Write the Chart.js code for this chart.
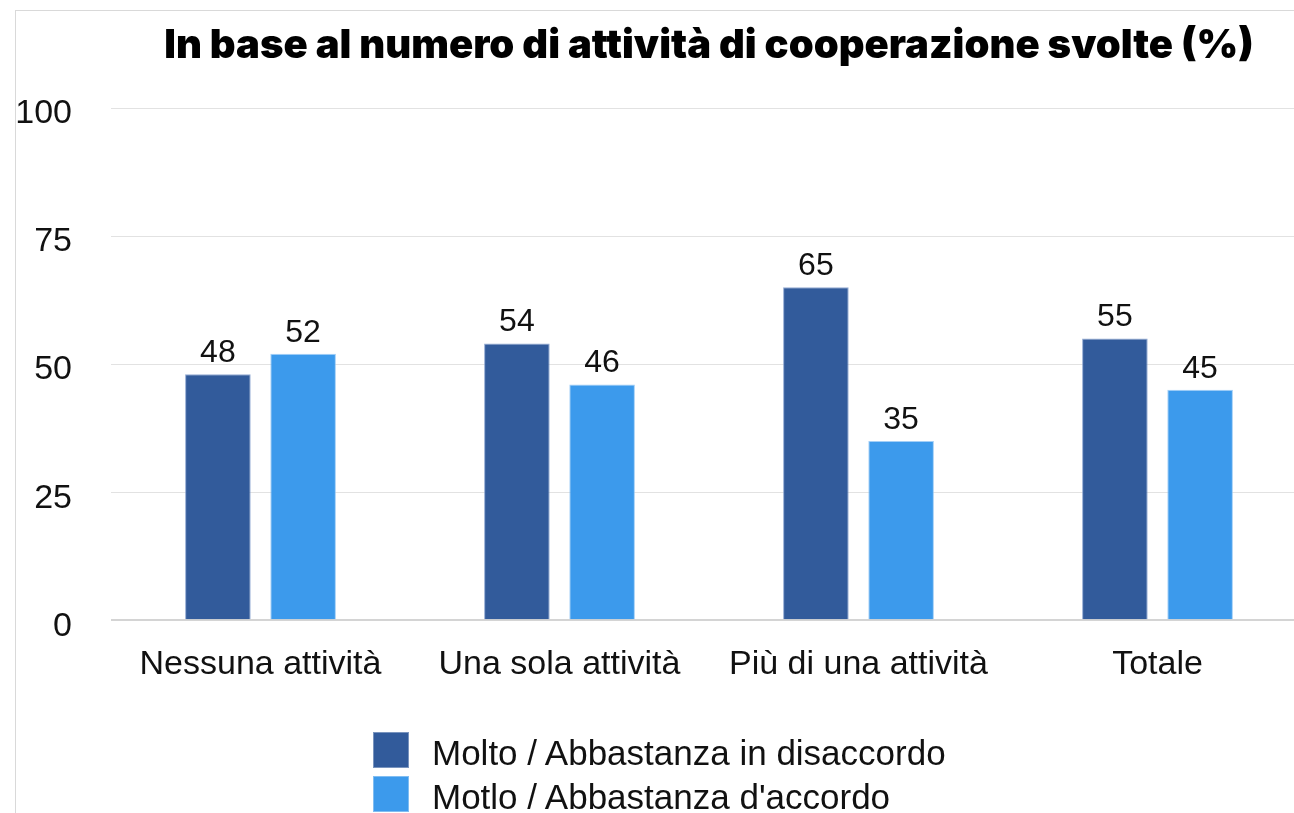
<!DOCTYPE html>
<html lang="it">
<head>
    <meta charset="UTF-8">
    <title>In base al numero di attività di cooperazione svolte</title>
    <script src="https://cdn.jsdelivr.net/npm/chart.js"></script>
    <style>
        body {
            margin: 0;
            background: #fff;
            overflow: hidden;
            width: 1294px;
            height: 813px;
            position: relative;
        }
        #frame {
            position: absolute;
            left: 15px;
            top: 10px;
            width: 1400px;
            height: 900px;
            border-left: 1px solid #d9d9d9;
            border-top: 1px solid #d9d9d9;
        }
        #wrap {
            position: absolute;
            left: 0;
            top: 0;
        }
        #legend {
            position: absolute;
            left: 373px;
            top: 728px;
            font-family: "Liberation Sans", Arial, sans-serif;
            font-size: 35px;
            color: #111;
        }
        .item {
            display: flex;
            align-items: center;
            height: 44px;
        }
        .box {
            width: 36px;
            height: 36px;
            margin-right: 23px;
            box-sizing: border-box;
            border: 1px solid rgba(255,255,255,0.35);
        }
        .item span:last-child {
            position: relative;
            top: 3px;
        }
    </style>
</head>
<body>
    <div id="frame"></div>
    <div id="wrap">
        <canvas id="chart" width="1312" height="813"></canvas>
    </div>
    <div id="legend"></div>

    <script>
        const categories = ["Nessuna attività", "Una sola attività", "Più di una attività", "Totale"];
        const disaccordo = [48, 54, 65, 55];
        const accordo = [52, 46, 35, 45];
        const seriesNames = ["Molto / Abbastanza in disaccordo", "Motlo / Abbastanza d'accordo"];
        const colors = ["#325b9b", "#3c9aec"];
        const yTicks = [0, 25, 50, 75, 100];

        const font = "'Liberation Sans', Arial, sans-serif";

        // valori sopra le barre
        const valueLabels = {
            id: 'valueLabels',
            afterDatasetsDraw(chart) {
                const ctx = chart.ctx;
                ctx.save();
                ctx.font = "32px " + font;
                ctx.fillStyle = "#111";
                ctx.textAlign = "center";
                ctx.textBaseline = "middle";
                chart.data.datasets.forEach((ds, i) => {
                    chart.getDatasetMeta(i).data.forEach((bar, j) => {
                        ctx.fillText(ds.data[j], bar.x, bar.y - 21);
                    });
                });
                ctx.restore();
            }
        };

        const chart = new Chart(document.getElementById("chart"), {
            type: 'bar',
            data: {
                labels: categories,
                datasets: [
                    {
                        label: seriesNames[0],
                        data: disaccordo,
                        backgroundColor: colors[0],
                        borderColor: "rgba(120,150,200,0.8)",
                        borderWidth: 1,
                        barPercentage: 0.77,
                        categoryPercentage: 0.57
                    },
                    {
                        label: seriesNames[1],
                        data: accordo,
                        backgroundColor: colors[1],
                        borderColor: "rgba(140,195,245,0.8)",
                        borderWidth: 1,
                        barPercentage: 0.77,
                        categoryPercentage: 0.57
                    }
                ]
            },
            options: {
                responsive: false,
                animation: false,
                layout: {
                    padding: { left: 15, right: 5, top: 0, bottom: 112 }
                },
                plugins: {
                    legend: { display: false },
                    tooltip: { enabled: false },
                    title: {
                        display: true,
                        fullSize: false,
                        text: "In base al numero di attività di cooperazione svolte (%)",
                        color: "#000",
                        font: { family: "Inter, 'Liberation Sans', sans-serif", size: 40, weight: 900 },
                        padding: { top: 22, bottom: 38 }
                    }
                },
                scales: {
                    x: {
                        grid: { display: false },
                        border: { display: false },
                        ticks: {
                            color: "#111",
                            font: { family: font, size: 34 },
                            padding: 16
                        }
                    },
                    y: {
                        min: 0,
                        max: 100,
                        afterBuildTicks(axis) {
                            axis.ticks = yTicks.map(v => ({ value: v }));
                        },
                        afterFit(axis) {
                            axis.width = 96;
                        },
                        border: { display: false },
                        grid: {
                            drawTicks: false,
                            color: ctx => ctx.tick.value === 0 ? "#d4d4d4" : "#e2e2e2",
                            lineWidth: ctx => ctx.tick.value === 0 ? 2 : 1
                        },
                        ticks: {
                            color: "#111",
                            font: { family: font, size: 34 },
                            padding: 39,
                            labelOffset: 6
                        }
                    }
                }
            },
            plugins: [valueLabels]
        });

        // legenda verticale
        const legend = document.getElementById("legend");
        chart.data.datasets.forEach(ds => {
            const row = document.createElement("div");
            row.className = "item";
            const box = document.createElement("span");
            box.className = "box";
            box.style.background = ds.backgroundColor;
            const txt = document.createElement("span");
            txt.textContent = ds.label;
            row.appendChild(box);
            row.appendChild(txt);
            legend.appendChild(row);
        });
    </script>
</body>
</html>
